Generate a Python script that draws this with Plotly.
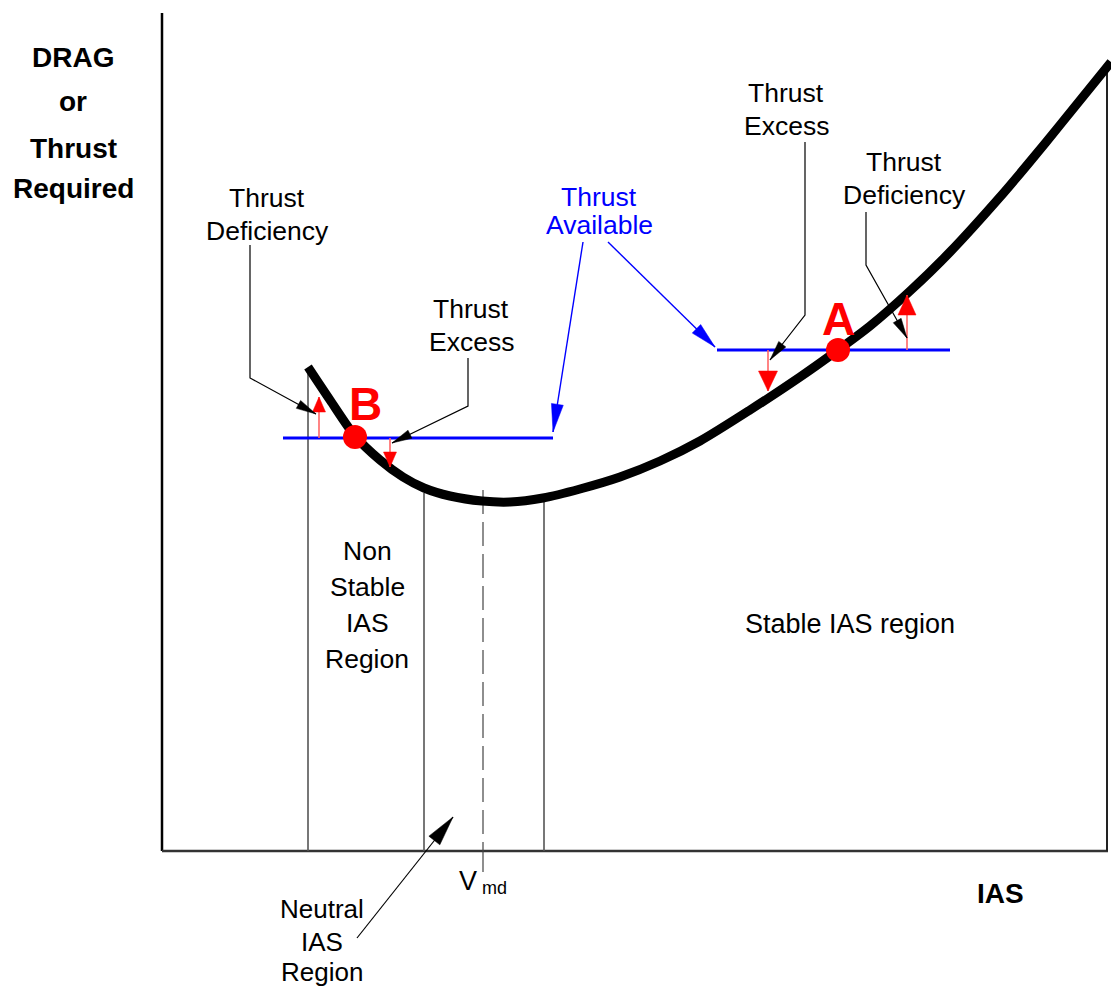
import math
import plotly.graph_objects as go

# ---- data (drawing units: 1 unit = 1 px, y grows downward) ----
ias = [308, 330, 355, 380, 403, 424, 450, 482, 510, 543, 580, 620, 660, 700,
       750, 800, 838, 870, 910, 950, 1000, 1028, 1060, 1111]
drag = [367, 400, 436, 460, 477, 488, 496, 501, 502, 498, 489, 477, 461, 441,
        410, 377, 350, 326, 291, 252, 197, 164, 125, 62]

thrust_levels = [438, 350]
thrust_spans = [(283, 553), (717, 950)]
point_names = ["B", "A"]
point_ias = [355, 838]
point_drag = [437, 350]
region_bounds = [308, 424, 544]
region_tops = [372, 493, 502]
vmd_ias = 483

FONT = "Liberation Sans, Arial, sans-serif"
fig = go.Figure()


def line(xs, ys, color="black", width=1.2, dash=None):
    fig.add_trace(go.Scatter(x=xs, y=ys, mode="lines", hoverinfo="skip",
                             line=dict(color=color, width=width, dash=dash),
                             showlegend=False))


def head(x0, y0, x1, y1, color, length, half_w):
    dx, dy = x1 - x0, y1 - y0
    d = math.hypot(dx, dy)
    ux, uy = dx / d, dy / d
    bx, by = x1 - ux * length, y1 - uy * length
    px, py = -uy * half_w, ux * half_w
    fig.add_trace(go.Scatter(x=[x1, bx + px, bx - px, x1], y=[y1, by + py, by - py, y1],
                             mode="lines", fill="toself", fillcolor=color,
                             line=dict(color=color, width=0.5), hoverinfo="skip",
                             showlegend=False))


def leader(pts, color="black", width=1.2, length=20, half_w=4.5):
    xs = [p[0] for p in pts]
    ys = [p[1] for p in pts]
    line(xs, ys, color, width)
    head(xs[-2], ys[-2], xs[-1], ys[-1], color, length, half_w)


def text(x, y, s, size=26.5, color="black", bold=False):
    if bold:
        s = "<b>" + s + "</b>"
    fig.add_annotation(x=x, y=y, text=s, showarrow=False, xanchor="center",
                       yanchor="middle", font=dict(family=FONT, size=size, color=color))


def lines_text(x, ys, strs, **kw):
    for y, s in zip(ys, strs):
        text(x, y, s, **kw)


# axes frame
line([162, 162], [13, 851], "black", 2.5)
line([162, 1108], [851, 851], "#333333", 2.5)
line([1107, 1107], [62, 851], "#222222", 2)

# region boundaries
for xb, yt in zip(region_bounds, region_tops):
    line([xb, xb], [yt, 851], "#555555", 1.6)
line([vmd_ias, vmd_ias], [490, 851], "#444444", 1.2, dash="24px,8px")
line([vmd_ias, vmd_ias], [851, 872], "#444444", 1.2)

# drag curve
fig.add_trace(go.Scatter(x=ias, y=drag, mode="lines", hoverinfo="skip",
                         line=dict(color="black", width=9, shape="spline", smoothing=0.8),
                         showlegend=False))

# thrust available lines
for lvl, (xa, xb) in zip(thrust_levels, thrust_spans):
    line([xa, xb], [lvl, lvl], "#0000ff", 3)

# red excess/deficiency arrows
red_arrows = [(319, 438, 397, 13, 15), (390, 438, 467, 13, 15),
              (768, 350, 391, 19, 20), (907, 350, 295, 18, 20)]
for x, y0, y1, w, L in red_arrows:
    line([x, x], [y0, y1], "#ff6666", 1.6)
    head(x, y0, x, y1, "#ff0000", L, w / 2)

# operating points
fig.add_trace(go.Scatter(x=point_ias, y=point_drag, mode="markers", hoverinfo="skip",
                         marker=dict(color="#ff0000", size=24, line=dict(width=0)),
                         showlegend=False))
text(365, 404, "B", size=46, color="#ff0000", bold=True)
text(838, 319, "A", size=46, color="#ff0000", bold=True)

# leaders
leader([(250, 245), (250, 378), (316, 414)])
leader([(468, 358), (468, 406), (392, 443)])
leader([(805, 142), (805, 315), (770, 360)])
leader([(866, 212), (866, 265), (907, 338)])
leader([(583, 242), (553, 432)], "#0000ff", 1.4, 28, 6)
leader([(608, 242), (715, 347)], "#0000ff", 1.4, 26, 6)
leader([(357, 938), (453, 817)], "black", 1.2, 30, 7)

# labels
lines_text(73, [57, 101, 148, 188], ["DRAG", "or", "Thrust", "Required"], size=28, bold=True)
text(1000, 893, "IAS", size=28, bold=True)
lines_text(267, [198, 231], ["Thrust", "Deficiency"])
lines_text(471, [309, 342], ["Thrust", "Excess"])
lines_text(599, [197, 225], ["Thrust", "Available"], color="#0000ff")
lines_text(786, [93, 126], ["Thrust", "Excess"])
lines_text(904, [162, 195], ["Thrust", "Deficiency"])
lines_text(367, [551, 587, 623, 659], ["Non", "Stable", "IAS", "Region"])
text(850, 624, "Stable IAS region", size=27)
lines_text(322, [909, 942, 972], ["Neutral", "IAS", "Region"], size=26)
text(468, 881, "V", size=27)
text(494, 888, "md", size=18)

fig.update_layout(
    width=1111, height=989, margin=dict(l=0, r=0, t=0, b=0),
    paper_bgcolor="white", plot_bgcolor="white",
    xaxis=dict(range=[0, 1111], visible=False, fixedrange=True),
    yaxis=dict(range=[989, 0], visible=False, fixedrange=True),
)
fig.write_html(
    "out.html",
    config={"displayModeBar": False},
    post_script="document.body.style.margin='0';document.body.style.overflow='hidden';",
)
